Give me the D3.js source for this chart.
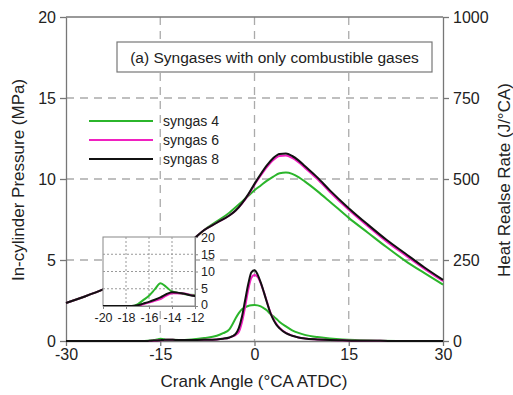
<!DOCTYPE html>
<html>
<head>
<meta charset="utf-8">
<script src="https://cdn.jsdelivr.net/npm/d3@7"></script>
<style>
body { margin: 0; background: #fff; }
svg { font-family: Arial, "Liberation Sans", sans-serif; }
</style>
</head>
<body>
<svg width="513" height="395"></svg>
<script>
// Pressure data (MPa) vs crank angle
var pCad = [-30,-27,-24,-21,-18,-15,-12,-10,-8,-6,-4,-3,-2,-1,0,1,2,3,4,5,6,7,8,10,12,15,18,21,24,27,30];
var p4 = [2.35,2.75,3.2,3.75,4.35,5.0,5.7,6.2,6.85,7.38,7.92,8.25,8.6,8.95,9.3,9.6,9.9,10.15,10.35,10.4,10.32,10.12,9.85,9.25,8.6,7.6,6.7,5.8,4.95,4.2,3.48];
var p6 = [2.35,2.75,3.2,3.75,4.35,5.0,5.7,6.2,6.85,7.3,7.75,8.05,8.48,9.0,9.65,10.22,10.75,11.18,11.42,11.45,11.3,11.03,10.7,10.0,9.2,8.1,7.1,6.15,5.3,4.47,3.7];
var p8 = [2.35,2.75,3.2,3.75,4.35,5.0,5.7,6.2,6.85,7.3,7.75,8.05,8.5,9.05,9.7,10.3,10.85,11.3,11.55,11.57,11.42,11.15,10.8,10.1,9.3,8.2,7.2,6.25,5.4,4.55,3.77];

// Heat release rate (J/CA) vs crank angle
var hCad = [-30,-20,-18,-17.5,-17,-16.5,-16,-15.5,-15,-14.5,-14,-13,-12,-10,-8,-6,-5,-4,-3.5,-3,-2.5,-2,-1.5,-1,-0.5,0,0.5,1,1.5,2,2.5,3,3.5,4,5,6,7,8,10,12,14,16,20,25,30];
var h4 = [0,0,0,0,0.5,1.7,3,4.8,6.6,5.5,4.2,3.5,3.2,5,9,16,24,36,52,70,86,98,104,108,110,111,110,107,101,94,84,76,68,59,45,33,25,19,12,8,5,3,1,0,0];
var h6 = [0,0,0,0,0,0.5,1,1.5,2.0,3.0,3.7,3.6,3.0,2.8,3.5,5,7,10,14,19,28,58,105,158,195,204,198,178,150,120,90,68,52,40,25,16.5,11,8,5,3,2,1,0.5,0,0];
var h8 = [0,0,0,0,0.2,0.7,1.2,1.8,2.5,3.4,4.0,3.6,2.9,2.8,3.5,5,7,11,15,22,40,75,125,175,212,218,205,180,150,118,88,66,50,39,24,16,11,8,5,3,2,1,0.5,0,0];

var xTicks = [-30, -15, 0, 15, 30];
var pTicks = [0, 5, 10, 15, 20];
var hTicks = [0, 250, 500, 750, 1000];
var insetXTicks = [-20, -18, -16, -14, -12];
var insetYTicks = [0, 5, 10, 15, 20];

var names = ["syngas 4", "syngas 6", "syngas 8"];
var colors = ["#2bb52b", "#f020c0", "#111111"];

var svg = d3.select("svg");
var m = {left: 66, right: 443, top: 17, bottom: 341};

var x = d3.scaleLinear().domain([-30, 30]).range([m.left, m.right]);
var yP = d3.scaleLinear().domain([0, 20]).range([m.bottom, m.top]);
var yH = d3.scaleLinear().domain([0, 1000]).range([m.bottom, m.top]);
var fmt = (d) => String(d); // plain hyphen minus, no thousands comma

// Grid
var grid = svg.append("g").attr("stroke", "#aaa").attr("stroke-width", 1.3).attr("stroke-dasharray", "8,6");
[-15, 0, 15].forEach(function (v) {
	grid.append("line").attr("x1", x(v)).attr("x2", x(v)).attr("y1", m.top).attr("y2", m.bottom);
});
[5, 10, 15].forEach(function (v) {
	grid.append("line").attr("x1", m.left).attr("x2", m.right).attr("y1", yP(v)).attr("y2", yP(v));
});

// Axes
function styleAxis(g) {
	g.selectAll("path, line").attr("stroke", "#777").attr("stroke-width", 1.3);
	g.selectAll("text").attr("font-size", 16).attr("fill", "#222").attr("font-family", "Arial, 'Liberation Sans', sans-serif");
}
svg.append("g").attr("transform", "translate(0," + m.bottom + ")")
	.call(d3.axisBottom(x).tickValues(xTicks).tickFormat(fmt).tickSize(5).tickPadding(3).tickSizeOuter(0))
	.call(styleAxis);
svg.append("g").attr("transform", "translate(" + m.left + ",0)")
	.call(d3.axisLeft(yP).tickValues(pTicks).tickFormat(fmt).tickSize(6).tickPadding(4).tickSizeOuter(0))
	.call(styleAxis);
svg.append("g").attr("transform", "translate(" + m.right + ",0)")
	.call(d3.axisRight(yH).tickValues(hTicks).tickFormat(fmt).tickSize(6).tickPadding(4).tickSizeOuter(0))
	.call(styleAxis);
svg.append("line").attr("x1", m.left).attr("x2", m.right).attr("y1", m.top).attr("y2", m.top)
	.attr("stroke", "#777").attr("stroke-width", 1.3);

// Curves
var pSeries = [p4, p6, p8];
var hSeries = [h4, h6, h8];
var lineP = function (vals) {
	return d3.line().x((d, i) => x(pCad[i])).y((d) => yP(d)).curve(d3.curveMonotoneX)(vals);
};
var lineH = function (vals) {
	return d3.line().x((d, i) => x(hCad[i])).y((d) => yH(d)).curve(d3.curveMonotoneX)(vals);
};
var curves = svg.append("g").attr("fill", "none").attr("stroke-width", 2);
pSeries.forEach(function (s, i) {
	curves.append("path").attr("d", lineP(s)).attr("stroke", colors[i]);
});
hSeries.forEach(function (s, i) {
	curves.append("path").attr("d", lineH(s)).attr("stroke", colors[i]);
});

// Title box
svg.append("rect").attr("x", 117).attr("y", 42).attr("width", 315).attr("height", 30)
	.attr("fill", "#fff").attr("stroke", "#777").attr("stroke-width", 1.2);
svg.append("text").attr("x", 274.5).attr("y", 63).attr("text-anchor", "middle")
	.attr("font-size", 15.5).attr("fill", "#222").text("(a) Syngases with only combustible gases");

// Legend
names.forEach(function (n, i) {
	var ly = 121 + i * 19;
	svg.append("line").attr("x1", 89).attr("x2", 153).attr("y1", ly).attr("y2", ly)
		.attr("stroke", colors[i]).attr("stroke-width", 2.2);
	svg.append("text").attr("x", 163).attr("y", ly + 5).attr("font-size", 14).attr("fill", "#222").text(n);
});

// Axis titles
svg.append("text").attr("x", 254).attr("y", 387).attr("text-anchor", "middle")
	.attr("font-size", 17).attr("fill", "#222").text("Crank Angle (\u00B0CA ATDC)");
svg.append("text").attr("transform", "translate(24,180) rotate(-90)").attr("text-anchor", "middle")
	.attr("font-size", 17).attr("fill", "#222").text("In-cylinder Pressure (MPa)");
svg.append("text").attr("transform", "translate(510,180) rotate(-90)").attr("text-anchor", "middle")
	.attr("font-size", 17).attr("fill", "#222").text("Heat Realse Rate (J/\u00B0CA)");

// Inset: early heat release, -20 to -12 CA
var ix = d3.scaleLinear().domain([-20, -12]).range([103, 195]);
var iy = d3.scaleLinear().domain([0, 20]).range([306, 237]);
var inset = svg.append("g");
inset.append("rect").attr("x", 103).attr("y", 237).attr("width", 92).attr("height", 69)
	.attr("fill", "#fff").attr("stroke", "#888").attr("stroke-width", 1);
var ig = inset.append("g").attr("stroke", "#999").attr("stroke-dasharray", "2,2").attr("stroke-width", 1);
[-18, -16, -14].forEach(function (v) {
	ig.append("line").attr("x1", ix(v)).attr("x2", ix(v)).attr("y1", 237).attr("y2", 306);
});
[5, 10, 15].forEach(function (v) {
	ig.append("line").attr("x1", 103).attr("x2", 195).attr("y1", iy(v)).attr("y2", iy(v));
});
svg.append("clipPath").attr("id", "iclip").append("rect").attr("x", 103).attr("y", 237).attr("width", 92).attr("height", 69);
var ic = inset.append("g").attr("clip-path", "url(#iclip)").attr("fill", "none").attr("stroke-width", 2);
hSeries.forEach(function (s, i) {
	ic.append("path")
		.attr("d", d3.line().x((d, j) => ix(hCad[j])).y((d) => iy(d)).curve(d3.curveMonotoneX)(s))
		.attr("stroke", colors[i]);
});
function styleInset(g, size) {
	g.selectAll("path, line").attr("stroke", "#888");
	g.selectAll("text").attr("font-size", size).attr("fill", "#222").attr("font-family", "Arial, 'Liberation Sans', sans-serif");
}
inset.append("g").attr("transform", "translate(0,306)")
	.call(d3.axisBottom(ix).tickValues(insetXTicks).tickFormat(fmt).tickSize(3).tickPadding(4).tickSizeOuter(0))
	.call(styleInset, 12.5);
inset.append("g").attr("transform", "translate(195,0)")
	.call(d3.axisRight(iy).tickValues(insetYTicks).tickFormat(fmt).tickSize(3).tickPadding(3).tickSizeOuter(0))
	.call(styleInset, 12.5);
// nudge the inset "0" up a little so it clears "-12"
inset.selectAll("text").filter((d) => d === 0).attr("dy", "0.2em");
</script>
</body>
</html>
